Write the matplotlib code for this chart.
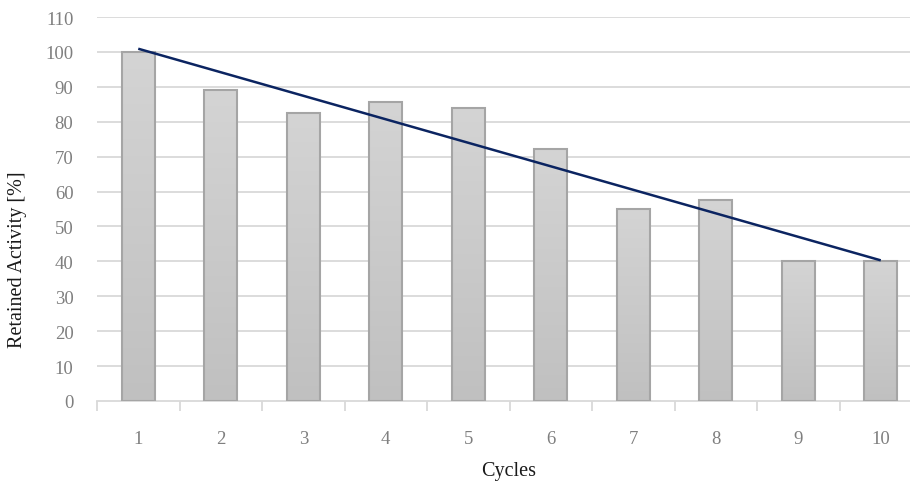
import numpy as np
import matplotlib
matplotlib.use("Agg")
import matplotlib.pyplot as plt
from matplotlib.colors import LinearSegmentedColormap

# Retained activity after each reuse cycle
cycles = [1, 2, 3, 4, 5, 6, 7, 8, 9, 10]
retained = [100, 89, 82.5, 85.7, 84, 72.2, 55, 57.6, 40, 40]
y_ticks = [0, 10, 20, 30, 40, 50, 60, 70, 80, 90, 100, 110]

plt.rcParams['font.family'] = ['Liberation Serif', 'DejaVu Serif']

W, H = 910, 485
fig = plt.figure(figsize=(W / 100, H / 100), dpi=100)
ax = fig.add_axes([97 / W, 83 / H, 825 / W, 384 / H])

x = np.arange(len(cycles))
bar_w = 0.4

# gridlines
for t in y_ticks[1:]:
    ax.axhline(t, color='#d9d9d9', lw=1.3, zorder=0)

# bars with vertical gradient fill
grad_cmap = LinearSegmentedColormap.from_list('g', ['#c0c0c0', '#d4d4d4'])
grad = np.linspace(0, 1, 256).reshape(-1, 1)
bars = ax.bar(x, retained, width=bar_w, color='none', edgecolor='#a5a5a5',
              linewidth=1.5, zorder=3)
for b, v in zip(bars, retained):
    x0 = b.get_x()
    im = ax.imshow(grad, cmap=grad_cmap, aspect='auto', origin='lower',
                   extent=[x0, x0 + bar_w, 0, v], zorder=2)
    im.set_clip_path(b)
ax.set_xlim(-0.5, len(cycles) - 0.5)
ax.set_ylim(0, 110)

# linear trend line
coef = np.polyfit(np.array(cycles, dtype=float), retained, 1)
trend = np.polyval(coef, np.array(cycles, dtype=float))
ax.plot(x, trend, color='#0b2461', lw=1.8, zorder=4, solid_capstyle='butt')

for s in ['top', 'right', 'left']:
    ax.spines[s].set_visible(False)
ax.spines['bottom'].set_color('#d9d9d9')
ax.spines['bottom'].set_linewidth(1.3)

ax.set_yticks(y_ticks)
ax.set_yticklabels([str(t) for t in y_ticks])
ax.tick_params(axis='y', length=0, pad=17, labelsize=13.5, labelcolor='#7f7f7f')

ax.set_xticks(x)
ax.set_xticklabels([str(c) for c in cycles])
ax.set_xticks(np.arange(-0.5, len(cycles) + 0.5, 1), minor=True)
ax.tick_params(axis='x', which='major', length=0, pad=21, labelsize=13.5,
               labelcolor='#7f7f7f')
ax.tick_params(axis='x', which='minor', length=7, width=1.3, color='#d9d9d9')

fig.text(18 / W, 1 - 260 / H, 'Retained Activity [%]', rotation=90,
         ha='center', va='center', fontsize=14.5, color='#1a1a1a')
fig.text(509 / W, 1 - 472 / H, 'Cycles', ha='center', va='center',
         fontsize=14.5, color='#1a1a1a')

fig.savefig('out.png', dpi=100, facecolor='white')
